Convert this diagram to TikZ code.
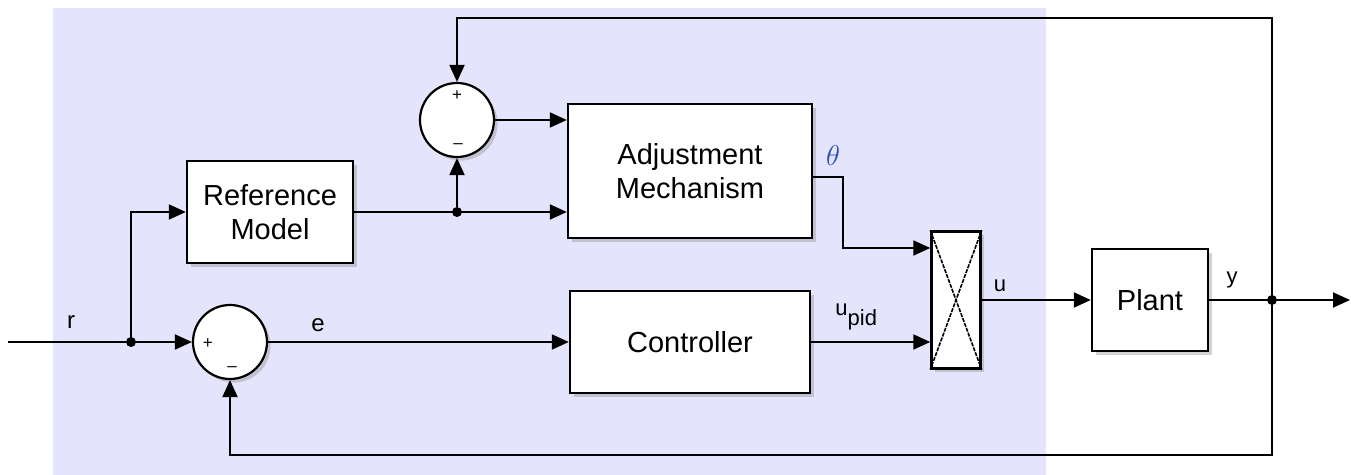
\documentclass[tikz,border=0pt]{standalone}
\usepackage{fontspec}
\setmainfont{Liberation Sans}
\usepackage{tikz}
\usetikzlibrary{positioning,calc,arrows.meta,shadows}
\definecolor{panelbg}{HTML}{E4E4FC}
\definecolor{thetablue}{HTML}{2A4FB5}

\tikzset{
  block/.style={draw, fill=white, line width=1.2pt, inner sep=0pt, align=center,
    font=\fontsize{14.5}{17}\selectfont,
    drop shadow={shadow xshift=1.8pt, shadow yshift=-1.8pt, opacity=0.35}},
  sumnode/.style={circle, draw, fill=white, line width=1.1pt, minimum size=37pt, inner sep=0pt,
    drop shadow={shadow xshift=1.8pt, shadow yshift=-1.8pt, opacity=0.35}},
  wire/.style={line width=1pt},
  sig/.style={line width=1pt, -{Triangle[length=8.5pt, width=7.5pt]}},
  dot/.style={circle, fill=black, minimum size=5pt, inner sep=0pt},
  lbl/.style={font=\fontsize{12}{14}\selectfont, inner sep=0pt},
  sgn/.style={font=\fontsize{8.5}{9}\selectfont, inner sep=0pt}
}

\begin{document}
\begin{tikzpicture}[x=0.5pt, y=-0.5pt]
  \useasboundingbox (0,0) rectangle (1351,475);
  % adaptive part
  \fill[panelbg] (53,8) rectangle (1046,475);

  % blocks
  \node[block, minimum width=83pt, minimum height=51pt] (refmodel) at (270,212) {Reference\\Model};
  \node[block, minimum width=122pt, minimum height=67pt] (adjust) at (690,171) {Adjustment\\Mechanism};
  \node[block, minimum width=120pt, minimum height=51pt] (ctrl) at (690,342) {Controller};
  \node[block, minimum width=24.5pt, minimum height=68.5pt] (prod) at (956,300) {};
  \draw[line width=0.8pt, dash pattern=on 2pt off 0.6pt] (prod.north west) -- (prod.south east);
  \draw[line width=0.8pt, dash pattern=on 2pt off 0.6pt] (prod.north east) -- (prod.south west);
  \node[block, minimum width=58pt, minimum height=51pt] (plant) at (1150,300) {Plant};

  % sums
  \node[sumnode] (sum1) at (457,120) {};
  \node[sgn] at ($(sum1.north)+(0,14)$) {+};
  \node[sgn] at ($(sum1.south)+(1,-12)$) {--};
  \node[sumnode] (sum2) at (230,342) {};
  \node[sgn] at ($(sum2.west)+(16,2)$) {+};
  \node[sgn] at ($(sum2.south)+(2,-11)$) {--};

  % junctions
  \coordinate (rin) at (8,342);
  \node[dot] (jr) at (131,342) {};
  \node[dot] (jm) at (457,212) {};
  \node[dot] (jy) at (1272,300) {};
  \coordinate (yout) at (1350,300);
  \coordinate (fbtop) at (1272,18);
  \coordinate (fbbot) at (1272,455);

  % signals
  \draw[sig] (rin) -- (jr) -- (sum2.west);
  \draw[sig] (jr.center) |- (refmodel.west);
  \draw[wire] (refmodel.east) -- (jm);
  \draw[sig] (jm) -- (jm -| adjust.west);
  \draw[sig] (jm) -- (sum1.south);
  \draw[sig] (sum1.east) -- (sum1 -| adjust.west);
  \draw[sig] ($(adjust.east)+(0,6)$) -- ++(30,0) |- ($(prod.west)+(0,-52)$);
  \draw[sig] (sum2.east) -- (ctrl.west);
  \draw[sig] (ctrl.east) -- (ctrl.east -| prod.west);
  \draw[sig] (prod.east) -- (plant.west);
  \draw[sig] (plant.east) -- (jy) -- (yout);
  \draw[sig] (jy.center) -- (fbtop) -| (sum1.north);
  \draw[sig] (jy.center) -- (fbbot) -| (sum2.south);

  % labels
  \node[lbl] at (71,322) {r};
  \node[lbl] at (318,325) {e};
  \node[lbl, font=\fontsize{14}{16}\selectfont, text=thetablue] at (833,156) {$\theta$};
  \node[lbl, font=\fontsize{11}{13}\selectfont, anchor=base west] at (835,316) {u\raisebox{-5pt}{pid}};
  \node[lbl, font=\fontsize{11}{13}\selectfont] at (1000,286) {u};
  \node[lbl, font=\fontsize{11}{13}\selectfont] at (1232,280) {y};
\end{tikzpicture}
\end{document}
